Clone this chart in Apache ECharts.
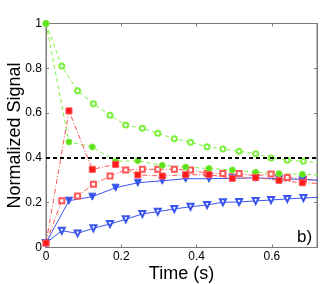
<!DOCTYPE html>
<html><head><meta charset="utf-8">
<script src="https://cdn.jsdelivr.net/npm/echarts@6/dist/echarts.min.js"></script>
<style>html,body{margin:0;padding:0;background:#fff}#c{width:322px;height:284px}</style>
</head><body><div id="c"></div>
<script>
// Time samples (s)
const tOpen   = [0,0.042,0.084,0.126,0.170,0.212,0.256,0.297,0.341,0.384,0.428,0.470,0.513,0.557,0.598,0.641,0.684,0.727];
const tFilled = [0,0.061,0.123,0.185,0.244,0.309,0.371,0.433,0.495,0.557,0.619,0.681,0.743];
// Series values
const greenOpen   = [1,0.81,0.70,0.642,0.59,0.547,0.532,0.51,0.486,0.47,0.45,0.44,0.43,0.419,0.40,0.389,0.385,0.378];
const greenFilled = [1,0.471,0.449,0.385,0.387,0.367,0.359,0.353,0.346,0.336,0.33,0.327,0.322];
const redOpen     = [0.02,0.209,0.23,0.282,0.319,0.346,0.349,0.349,0.349,0.346,0.331,0.33,0.33,0.32,0.328,0.313,0.305,0.30];
const redFilled   = [0.02,0.61,0.349,0.371,0.324,0.319,0.325,0.325,0.309,0.312,0.30,0.289,0.285];
const blueOpen    = [0.02,0.075,0.063,0.086,0.105,0.126,0.15,0.16,0.172,0.182,0.19,0.202,0.203,0.208,0.212,0.217,0.221,0.224];
const blueFilled  = [0.02,0.209,0.227,0.267,0.289,0.298,0.307,0.307,0.309,0.311,0.307,0.304,0.298];
const thresholdX = [0, 0.72];
const thresholdY = [0.4, 0.4];

const pairs = (xs, ys) => xs.map((x, i) => [x, ys[i]]);
const fmt = v => String(+(+v).toFixed(1));
const axisGray = '#7a7a7a';
const font = 'Liberation Sans, Arial, sans-serif';

const chart = echarts.init(document.getElementById('c'), null, {renderer: 'canvas'});
const GREEN = '#5fe01a', GREEN_L = '#7cf03c', RED = '#ff1a1a', RED_L = '#ff5555', BLUE = '#3a55ee';

function ser(name, xs, ys, color, lineType, symbol, size, fillColor, rotate) {
  return {
    name, type: 'line', data: pairs(xs, ys), clip: true,
    symbol, symbolSize: size, symbolRotate: rotate || 0, showSymbol: true, showAllSymbol: true,
    xAxisIndex: 0, yAxisIndex: 0,
    lineStyle: {color, width: 1, type: lineType},
    itemStyle: {color: fillColor, borderColor: color, borderWidth: 1},
    animation: false, z: 3
  };
}

chart.setOption({
  animation: false,
  grid: {left: 46, right: 5, top: 23.5, bottom: 36.5, containLabel: false, outerBoundsMode: 'none',
    show: true, borderColor: axisGray, borderWidth: 1, backgroundColor: 'transparent'},
  xAxis: [{
    type: 'value', min: 0, max: 0.72, interval: 0.2,
    name: 'Time (s)', nameLocation: 'middle', nameGap: 18, nameMoveOverlap: false,
    nameTextStyle: {fontSize: 18, color: '#000', fontFamily: font},
    axisLine: {onZero: false, lineStyle: {color: axisGray}},
    axisTick: {inside: true, length: 3, lineStyle: {color: axisGray}},
    axisLabel: {color: '#000', fontSize: 12, fontFamily: font, margin: 3, formatter: fmt, showMaxLabel: false},
    splitLine: {show: false}
  }, {
    type: 'value', position: 'top', min: 0, max: 0.72, interval: 0.2,
    axisLine: {show: true, onZero: false, lineStyle: {color: axisGray}},
    axisTick: {show: true, inside: true, length: 3, lineStyle: {color: axisGray}},
    axisLabel: {show: false}, splitLine: {show: false}
  }],
  yAxis: [{
    type: 'value', min: 0, max: 1, interval: 0.2,
    name: 'Normalized Signal', nameLocation: 'middle', nameGap: 22, nameMoveOverlap: false,
    nameTextStyle: {fontSize: 18, color: '#000', fontFamily: font},
    axisLine: {show: true, onZero: false, lineStyle: {color: axisGray}},
    axisTick: {show: true, inside: true, length: 3, lineStyle: {color: axisGray}},
    axisLabel: {color: '#000', fontSize: 12, fontFamily: font, margin: 4, formatter: fmt},
    splitLine: {show: false}
  }, {
    type: 'value', position: 'right', min: 0, max: 1, interval: 0.2,
    axisLine: {show: true, onZero: false, lineStyle: {color: axisGray}},
    axisTick: {show: true, inside: true, length: 3, lineStyle: {color: axisGray}},
    axisLabel: {show: false}, splitLine: {show: false}
  }],
  graphic: [{type: 'text', left: 297, top: 229,
    style: {text: 'b)', font: '17px ' + font, fill: '#000'}}],
  series: [
    ser('greenOpen', tOpen, greenOpen, GREEN_L, [4, 3], 'emptyCircle', 5, GREEN_L),
    ser('blueOpen', tOpen, blueOpen, BLUE, 'solid', 'emptyTriangle', 6, BLUE, 180),
    ser('redOpen', tOpen, redOpen, RED_L, [5, 2, 1, 2], 'emptyRect', 5, RED_L),
    ser('blueFilled', tFilled, blueFilled, BLUE, 'solid', 'triangle', 7, BLUE, 180),
    ser('greenFilled', tFilled, greenFilled, GREEN_L, [4, 3], 'circle', 6, GREEN),
    ser('redFilled', tFilled, redFilled, RED_L, [5, 2, 1, 2], 'rect', 6, RED),
    {type: 'line', data: pairs(thresholdX, thresholdY), symbol: 'none', clip: true,
     xAxisIndex: 0, yAxisIndex: 0,
     lineStyle: {color: '#000', width: 2, type: [4, 3]}, z: 4, animation: false},
    {type: 'line', data: [], xAxisIndex: 1, yAxisIndex: 1, symbol: 'none'}
  ]
});
</script></body></html>
